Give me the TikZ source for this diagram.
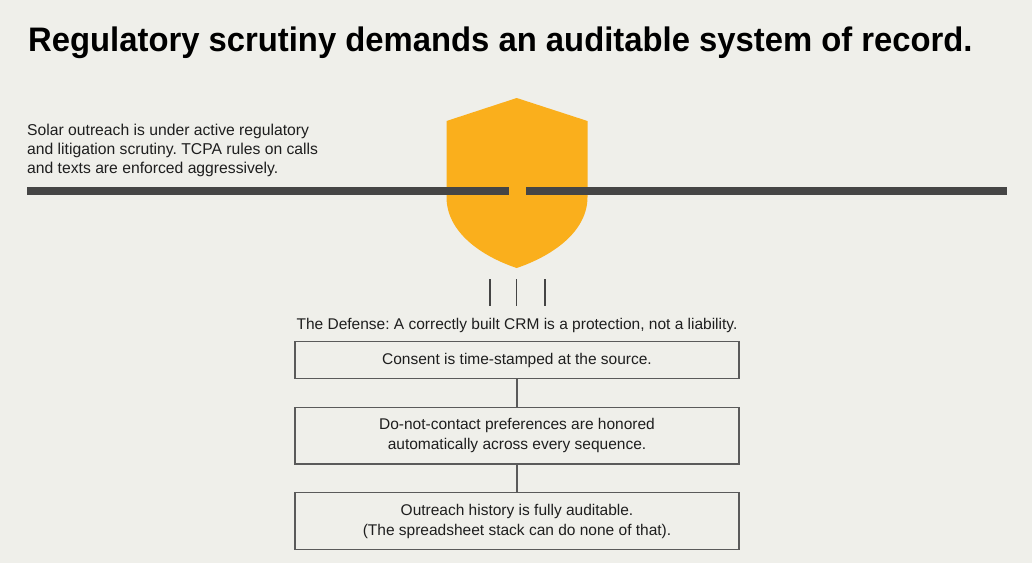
\documentclass[tikz,border=0pt]{standalone}
\usepackage{fontspec}
\setmainfont{Liberation Sans}
\frenchspacing
\definecolor{bg}{HTML}{EFEFEA}
\definecolor{shield}{HTML}{FAAF1C}
\definecolor{bar}{HTML}{454545}
\definecolor{ink}{HTML}{1E1E1E}
\definecolor{edge}{HTML}{5A5A5A}
\tikzset{
  box/.style={draw=edge, line width=1.2pt, minimum width=444pt, align=center, text=ink, font=\fontsize{15.5}{20}\selectfont, inner sep=0pt},
  link/.style={draw=edge, line width=1.2pt},
  tick/.style={draw=bar, line width=1.3pt},
}
\begin{document}
\begin{tikzpicture}[x=1pt,y=-1pt]
\fill[bg] (0,0) rectangle (1032,563);
\useasboundingbox (0,0) rectangle (1032,563);
% title
\node[anchor=west, text=black, font=\fontsize{34}{40}\selectfont\bfseries, inner sep=0pt] (title) at (28,43) {\scalebox{0.965}[1]{Regulatory scrutiny demands an auditable system of record.}};
% left text
\node[anchor=north west, align=left, text=ink, font=\fontsize{15.7}{19.2}\selectfont, inner sep=0pt] (intro) at (27,124) {Solar outreach is under active regulatory\\and litigation scrutiny. TCPA rules on calls\\and texts are enforced aggressively.};
% shield
\fill[shield] (516.7,98) -- (587.5,121) -- (587.5,197) .. controls (587.5,232) and (552,256) .. (516.7,268) .. controls (481,256) and (446.5,232) .. (446.5,197) -- (446.5,121) -- cycle;
% bar
\fill[bar] (27,187) rectangle (508.5,195);
\fill[bar] (526,187) rectangle (1007,195);
% ticks
\coordinate (t1a) at (490,279); \coordinate (t1b) at (490,306);
\coordinate (t2a) at (516.7,279); \coordinate (t2b) at (516.7,306);
\coordinate (t3a) at (545,279); \coordinate (t3b) at (545,306);
\draw[tick] (t1a) -- (t1b);
\draw[tick] (t2a) -- (t2b);
\draw[tick] (t3a) -- (t3b);
% defense
\node[text=ink, font=\fontsize{15.5}{20}\selectfont, inner sep=0pt] (def) at (517,325) {The Defense: A correctly built CRM is a protection, not a liability.};
% boxes
\node[box, minimum height=36.5pt] (b1) at (517,360) {Consent is time-stamped at the source.};
\node[box, minimum height=56.5pt] (b2) at (517,435.7) {Do-not-contact preferences are honored\\automatically across every sequence.};
\node[box, minimum height=56.5pt] (b3) at (517,521) {Outreach history is fully auditable.\\(The spreadsheet stack can do none of that).};
\draw[link] (b1.south) -- (b2.north);
\draw[link] (b2.south) -- (b3.north);
\end{tikzpicture}
\end{document}
